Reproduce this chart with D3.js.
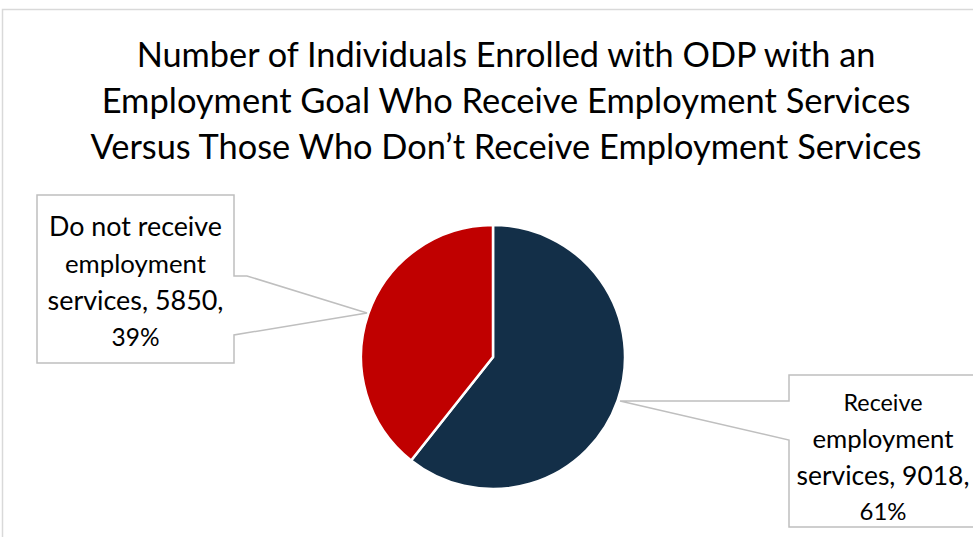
<!DOCTYPE html>
<html>
<head>
<meta charset="utf-8">
<script src="https://cdn.jsdelivr.net/npm/d3@7"></script>
<style>
  body { margin: 0; background: #fff; }
  text { font-family: Lato, "Open Sans", sans-serif; fill: #000; }
</style>
</head>
<body>
<div id="chart"></div>
<script>
// data
const categories = ["Receive employment services", "Do not receive employment services"];
const counts = [9018, 5850];
const percents = ["61%", "39%"];
const colors = ["#132f48", "#c00000"];
const titleLines = [
  "Number of Individuals Enrolled with ODP with an",
  "Employment Goal Who Receive Employment Services",
  "Versus Those Who Don\u2019t Receive Employment Services"
];

const width = 973, height = 537;
const svg = d3.select("#chart").append("svg")
  .attr("width", width).attr("height", height);

// chart border
svg.append("rect")
  .attr("x", 2.5).attr("y", 9.5)
  .attr("width", 1000).attr("height", 600)
  .attr("fill", "none").attr("stroke", "#d9d9d9").attr("stroke-width", 1.5);

// fit text to a target width
function fitWidth(sel, target) {
  sel.each(function() {
    const w = this.getComputedTextLength();
    const fs = parseFloat(d3.select(this).attr("font-size"));
    d3.select(this).attr("font-size", fs * target / w);
  });
}

// title
const titleW = [739, 809, 831];
const titleY = [67, 113, 159];
titleLines.forEach((t, i) => {
  svg.append("text")
    .attr("x", 506).attr("y", titleY[i])
    .attr("text-anchor", "middle")
    .attr("font-size", 30)
    .text(t)
    .call(fitWidth, titleW[i]);
});

// pie
const cx = 493, cy = 357, r = 132;
const pie = d3.pie().sort(null).value(d => d);
const arcs = pie(counts);
const arc = d3.arc().innerRadius(0).outerRadius(r);
const g = svg.append("g").attr("transform", `translate(${cx},${cy})`);
g.selectAll("path")
  .data(arcs)
  .join("path")
  .attr("d", arc)
  .attr("fill", (d, i) => colors[i])
  .attr("stroke", "#fff")
  .attr("stroke-width", 2.5)
  .attr("stroke-linejoin", "miter");

// callouts
const callouts = [
  { // receive
    box: [789, 375, 977, 527],
    lines: ["Receive", "employment", "services, " + counts[0] + ",", percents[0]],
    ys: [411, 448, 485, 520],
    shape: "left", gap: [401, 440],
    widths: [79, 141, 173, 47]
  },
  { // do not receive
    box: [37, 195, 234, 363],
    lines: ["Do not receive", "employment", "services, " + counts[1] + ",", percents[1]],
    ys: [236, 273, 310, 346],
    shape: "right", gap: [276, 335],
    widths: [173, 141, 176, 48]
  }
];
const tipAngle = [0.2 * Math.PI, -0.3 * Math.PI];

callouts.forEach((c, i) => {
  const a = arcs[i];
  const mid = (a.startAngle + a.endAngle) / 2;
  // leader tip sits on the pie edge
  let tx, ty;
  if (i === 0) { tx = 620; ty = 401; } else { tx = 367; ty = 313; }
  const [x0, y0, x1, y1] = c.box;
  let pts;
  if (c.shape === "right") {
    pts = [[x0, y0], [x1, y0], [x1, c.gap[0]], [x1 + 13, c.gap[0]], [tx, ty], [x1, c.gap[1]], [x1, y1], [x0, y1]];
  } else {
    pts = [[x0, y0], [x1, y0], [x1, y1], [x0, y1], [x0, c.gap[1]], [tx, ty], [x0, c.gap[0]]];
  }
  svg.append("path")
    .attr("d", d3.line()(pts) + "Z")
    .attr("fill", "#fff")
    .attr("stroke", "#bfbfbf")
    .attr("stroke-width", 1.5);
  const cxText = (x0 + x1) / 2;
  c.lines.forEach((t, j) => {
    svg.append("text")
      .attr("x", cxText).attr("y", c.ys[j])
      .attr("text-anchor", "middle")
      .attr("font-size", 24)
      .text(t)
      .call(fitWidth, c.widths[j]);
  });
});
</script>
</body>
</html>
